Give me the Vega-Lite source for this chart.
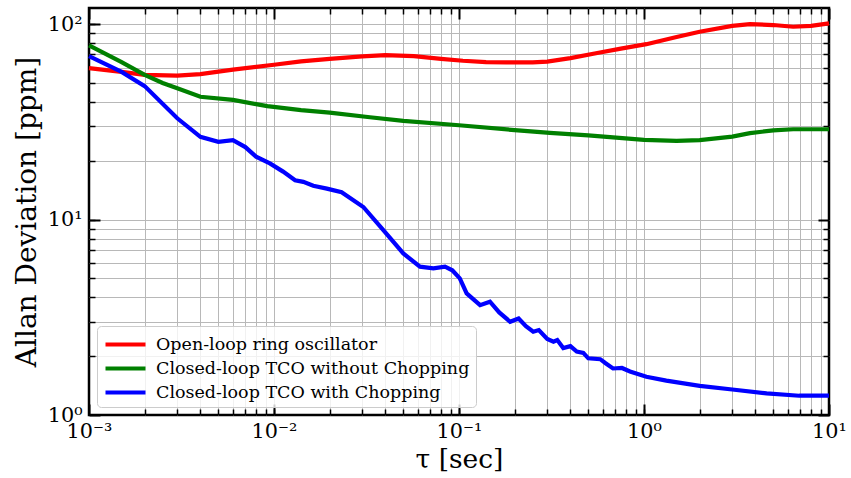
{
  "$schema": "https://vega.github.io/schema/vega-lite/v6.json",
  "width": 740,
  "height": 407,
  "autosize": "none",
  "padding": {"left": 89, "top": 8, "right": 22, "bottom": 63},
  "background": "white",
  "config": {
    "view": {"stroke": "black", "strokeWidth": 2.5},
    "axis": {"labelFont": "DejaVu Serif", "titleFont": "DejaVu Serif", "labelColor": "black", "titleColor": "black", "titleFontWeight": "normal", "tickColor": "black", "domain": false}
  },
  "datasets": {
    "red": [
      {"tau": 0.001, "adev": 59.6, "series": "Open-loop ring oscillator"},
      {"tau": 0.0015, "adev": 57, "series": "Open-loop ring oscillator"},
      {"tau": 0.002, "adev": 55, "series": "Open-loop ring oscillator"},
      {"tau": 0.003, "adev": 54.5, "series": "Open-loop ring oscillator"},
      {"tau": 0.004, "adev": 55.5, "series": "Open-loop ring oscillator"},
      {"tau": 0.006, "adev": 58.5, "series": "Open-loop ring oscillator"},
      {"tau": 0.01, "adev": 62, "series": "Open-loop ring oscillator"},
      {"tau": 0.014, "adev": 64.5, "series": "Open-loop ring oscillator"},
      {"tau": 0.02, "adev": 66.5, "series": "Open-loop ring oscillator"},
      {"tau": 0.03, "adev": 68.5, "series": "Open-loop ring oscillator"},
      {"tau": 0.04, "adev": 69.4, "series": "Open-loop ring oscillator"},
      {"tau": 0.057, "adev": 68.6, "series": "Open-loop ring oscillator"},
      {"tau": 0.08, "adev": 66.5, "series": "Open-loop ring oscillator"},
      {"tau": 0.105, "adev": 65, "series": "Open-loop ring oscillator"},
      {"tau": 0.14, "adev": 64, "series": "Open-loop ring oscillator"},
      {"tau": 0.18, "adev": 63.7, "series": "Open-loop ring oscillator"},
      {"tau": 0.25, "adev": 63.8, "series": "Open-loop ring oscillator"},
      {"tau": 0.3, "adev": 64.3, "series": "Open-loop ring oscillator"},
      {"tau": 0.4, "adev": 67, "series": "Open-loop ring oscillator"},
      {"tau": 0.55, "adev": 71, "series": "Open-loop ring oscillator"},
      {"tau": 0.75, "adev": 75, "series": "Open-loop ring oscillator"},
      {"tau": 1.03, "adev": 79, "series": "Open-loop ring oscillator"},
      {"tau": 1.5, "adev": 86, "series": "Open-loop ring oscillator"},
      {"tau": 2.0, "adev": 91.5, "series": "Open-loop ring oscillator"},
      {"tau": 3.0, "adev": 98, "series": "Open-loop ring oscillator"},
      {"tau": 3.74, "adev": 100, "series": "Open-loop ring oscillator"},
      {"tau": 5.0, "adev": 99, "series": "Open-loop ring oscillator"},
      {"tau": 6.4, "adev": 97, "series": "Open-loop ring oscillator"},
      {"tau": 8.0, "adev": 98, "series": "Open-loop ring oscillator"},
      {"tau": 10, "adev": 101, "series": "Open-loop ring oscillator"}
    ],
    "green": [
      {"tau": 0.001, "adev": 78, "series": "Closed-loop TCO without Chopping"},
      {"tau": 0.0015, "adev": 64, "series": "Closed-loop TCO without Chopping"},
      {"tau": 0.002, "adev": 55, "series": "Closed-loop TCO without Chopping"},
      {"tau": 0.0025, "adev": 50, "series": "Closed-loop TCO without Chopping"},
      {"tau": 0.003, "adev": 47, "series": "Closed-loop TCO without Chopping"},
      {"tau": 0.004, "adev": 42.5, "series": "Closed-loop TCO without Chopping"},
      {"tau": 0.006, "adev": 41, "series": "Closed-loop TCO without Chopping"},
      {"tau": 0.008, "adev": 39, "series": "Closed-loop TCO without Chopping"},
      {"tau": 0.0092, "adev": 38.1, "series": "Closed-loop TCO without Chopping"},
      {"tau": 0.014, "adev": 36.3, "series": "Closed-loop TCO without Chopping"},
      {"tau": 0.02, "adev": 35.3, "series": "Closed-loop TCO without Chopping"},
      {"tau": 0.033, "adev": 33.4, "series": "Closed-loop TCO without Chopping"},
      {"tau": 0.05, "adev": 32, "series": "Closed-loop TCO without Chopping"},
      {"tau": 0.1, "adev": 30.4, "series": "Closed-loop TCO without Chopping"},
      {"tau": 0.2, "adev": 28.7, "series": "Closed-loop TCO without Chopping"},
      {"tau": 0.31, "adev": 27.8, "series": "Closed-loop TCO without Chopping"},
      {"tau": 0.5, "adev": 27, "series": "Closed-loop TCO without Chopping"},
      {"tau": 1.0, "adev": 25.6, "series": "Closed-loop TCO without Chopping"},
      {"tau": 1.5, "adev": 25.3, "series": "Closed-loop TCO without Chopping"},
      {"tau": 2.0, "adev": 25.5, "series": "Closed-loop TCO without Chopping"},
      {"tau": 3.0, "adev": 26.6, "series": "Closed-loop TCO without Chopping"},
      {"tau": 3.74, "adev": 27.7, "series": "Closed-loop TCO without Chopping"},
      {"tau": 5.0, "adev": 28.6, "series": "Closed-loop TCO without Chopping"},
      {"tau": 6.4, "adev": 29, "series": "Closed-loop TCO without Chopping"},
      {"tau": 10, "adev": 29, "series": "Closed-loop TCO without Chopping"}
    ],
    "blue": [
      {"tau": 0.001, "adev": 68.6, "series": "Closed-loop TCO with Chopping"},
      {"tau": 0.0015, "adev": 57, "series": "Closed-loop TCO with Chopping"},
      {"tau": 0.002, "adev": 48.2, "series": "Closed-loop TCO with Chopping"},
      {"tau": 0.003, "adev": 33, "series": "Closed-loop TCO with Chopping"},
      {"tau": 0.004, "adev": 26.5, "series": "Closed-loop TCO with Chopping"},
      {"tau": 0.005, "adev": 25, "series": "Closed-loop TCO with Chopping"},
      {"tau": 0.006, "adev": 25.5, "series": "Closed-loop TCO with Chopping"},
      {"tau": 0.007, "adev": 23.5, "series": "Closed-loop TCO with Chopping"},
      {"tau": 0.008, "adev": 21, "series": "Closed-loop TCO with Chopping"},
      {"tau": 0.0095, "adev": 19.4, "series": "Closed-loop TCO with Chopping"},
      {"tau": 0.0112, "adev": 17.6, "series": "Closed-loop TCO with Chopping"},
      {"tau": 0.013, "adev": 15.9, "series": "Closed-loop TCO with Chopping"},
      {"tau": 0.0144, "adev": 15.6, "series": "Closed-loop TCO with Chopping"},
      {"tau": 0.0163, "adev": 14.9, "series": "Closed-loop TCO with Chopping"},
      {"tau": 0.0193, "adev": 14.4, "series": "Closed-loop TCO with Chopping"},
      {"tau": 0.0232, "adev": 13.8, "series": "Closed-loop TCO with Chopping"},
      {"tau": 0.0304, "adev": 11.6, "series": "Closed-loop TCO with Chopping"},
      {"tau": 0.039, "adev": 8.84, "series": "Closed-loop TCO with Chopping"},
      {"tau": 0.05, "adev": 6.71, "series": "Closed-loop TCO with Chopping"},
      {"tau": 0.0615, "adev": 5.74, "series": "Closed-loop TCO with Chopping"},
      {"tau": 0.0727, "adev": 5.63, "series": "Closed-loop TCO with Chopping"},
      {"tau": 0.084, "adev": 5.74, "series": "Closed-loop TCO with Chopping"},
      {"tau": 0.092, "adev": 5.5, "series": "Closed-loop TCO with Chopping"},
      {"tau": 0.101, "adev": 5.0, "series": "Closed-loop TCO with Chopping"},
      {"tau": 0.11, "adev": 4.19, "series": "Closed-loop TCO with Chopping"},
      {"tau": 0.13, "adev": 3.65, "series": "Closed-loop TCO with Chopping"},
      {"tau": 0.147, "adev": 3.8, "series": "Closed-loop TCO with Chopping"},
      {"tau": 0.165, "adev": 3.35, "series": "Closed-loop TCO with Chopping"},
      {"tau": 0.189, "adev": 3.0, "series": "Closed-loop TCO with Chopping"},
      {"tau": 0.21, "adev": 3.12, "series": "Closed-loop TCO with Chopping"},
      {"tau": 0.23, "adev": 2.85, "series": "Closed-loop TCO with Chopping"},
      {"tau": 0.252, "adev": 2.67, "series": "Closed-loop TCO with Chopping"},
      {"tau": 0.27, "adev": 2.72, "series": "Closed-loop TCO with Chopping"},
      {"tau": 0.3, "adev": 2.45, "series": "Closed-loop TCO with Chopping"},
      {"tau": 0.324, "adev": 2.37, "series": "Closed-loop TCO with Chopping"},
      {"tau": 0.34, "adev": 2.42, "series": "Closed-loop TCO with Chopping"},
      {"tau": 0.366, "adev": 2.2, "series": "Closed-loop TCO with Chopping"},
      {"tau": 0.4, "adev": 2.25, "series": "Closed-loop TCO with Chopping"},
      {"tau": 0.433, "adev": 2.11, "series": "Closed-loop TCO with Chopping"},
      {"tau": 0.47, "adev": 2.08, "series": "Closed-loop TCO with Chopping"},
      {"tau": 0.5, "adev": 1.95, "series": "Closed-loop TCO with Chopping"},
      {"tau": 0.58, "adev": 1.93, "series": "Closed-loop TCO with Chopping"},
      {"tau": 0.62, "adev": 1.84, "series": "Closed-loop TCO with Chopping"},
      {"tau": 0.68, "adev": 1.73, "series": "Closed-loop TCO with Chopping"},
      {"tau": 0.76, "adev": 1.74, "series": "Closed-loop TCO with Chopping"},
      {"tau": 0.84, "adev": 1.67, "series": "Closed-loop TCO with Chopping"},
      {"tau": 1.03, "adev": 1.57, "series": "Closed-loop TCO with Chopping"},
      {"tau": 1.32, "adev": 1.5, "series": "Closed-loop TCO with Chopping"},
      {"tau": 2.0, "adev": 1.41, "series": "Closed-loop TCO with Chopping"},
      {"tau": 3.0, "adev": 1.35, "series": "Closed-loop TCO with Chopping"},
      {"tau": 4.6, "adev": 1.29, "series": "Closed-loop TCO with Chopping"},
      {"tau": 6.9, "adev": 1.255, "series": "Closed-loop TCO with Chopping"},
      {"tau": 10, "adev": 1.255, "series": "Closed-loop TCO with Chopping"}
    ]
  },
  "resolve": {"axis": {"x": "independent", "y": "independent"}},
  "layer": [
    {
      "data": {"name": "red"},
      "mark": {"type": "line", "strokeWidth": 4.2},
      "encoding": {
        "x": {"field": "tau", "type": "quantitative",
          "scale": {"type": "log", "domain": [0.001, 10], "nice": false},
          "axis": {"orient": "bottom", "title": null, "labels": false, "grid": true, "gridColor": "#b8b8b8", "gridWidth": 1,
            "values": [0.002,0.003,0.004,0.005,0.006,0.007,0.008,0.009,0.01,0.02,0.03,0.04,0.05,0.06,0.07,0.08,0.09,0.1,0.2,0.3,0.4,0.5,0.6,0.7,0.8,0.9,1,2,3,4,5,6,7,8,9],
            "tickSize": -6, "tickWidth": 1.5}},
        "y": {"field": "adev", "type": "quantitative",
          "scale": {"type": "log", "domain": [1, 121], "nice": false},
          "axis": {"orient": "left", "title": null, "labels": false, "grid": true, "gridColor": "#b8b8b8", "gridWidth": 1,
            "values": [2,3,4,5,6,7,8,9,10,20,30,40,50,60,70,80,90,100],
            "tickSize": -6, "tickWidth": 1.5}},
        "color": {"field": "series", "type": "nominal",
          "scale": {"domain": ["Open-loop ring oscillator", "Closed-loop TCO without Chopping", "Closed-loop TCO with Chopping"], "range": ["#ff0000", "#008000", "#0000ff"]},
          "legend": {"orient": "bottom-left", "offset": 8, "title": null, "symbolType": "M-1,0H3", "symbolSize": 400, "symbolStrokeWidth": 4.2,
            "labelFont": "DejaVu Serif", "labelFontSize": 17.5, "labelColor": "black", "labelOffset": 28, "labelLimit": 0, "padding": 6, "rowPadding": 3,
            "strokeColor": "#cccccc", "fillColor": "rgba(255,255,255,0.8)", "cornerRadius": 4}}
      }
    },
    {
      "data": {"name": "green"},
      "mark": {"type": "line", "strokeWidth": 4.2},
      "encoding": {
        "x": {"field": "tau", "type": "quantitative",
          "scale": {"type": "log", "domain": [0.001, 10], "nice": false},
          "axis": {"orient": "bottom", "title": "τ [sec]", "titleFontSize": 26.5, "titlePadding": 6, "grid": false,
            "values": [0.001, 0.01, 0.1, 1, 10], "tickSize": -11, "tickWidth": 2,
            "labelFontSize": 20.8, "labelPadding": 17, "labelFlush": false,
            "labelExpr": "datum.value < 0.005 ? '10⁻³' : datum.value < 0.05 ? '10⁻²' : datum.value < 0.5 ? '10⁻¹' : datum.value < 5 ? '10⁰' : '10¹'"}},
        "y": {"field": "adev", "type": "quantitative",
          "scale": {"type": "log", "domain": [1, 121], "nice": false},
          "axis": {"orient": "left", "title": "Allan Deviation [ppm]", "titleFontSize": 28, "titlePadding": 6, "grid": false,
            "values": [1, 10, 100], "tickSize": -11, "tickWidth": 2,
            "labelFontSize": 20.8, "labelPadding": 18, "labelFlush": false,
            "labelExpr": "datum.value < 5 ? '10⁰' : datum.value < 50 ? '10¹' : '10²'"}},
        "color": {"field": "series", "type": "nominal"}
      }
    },
    {
      "data": {"name": "blue"},
      "mark": {"type": "line", "strokeWidth": 4.2},
      "encoding": {
        "x": {"field": "tau", "type": "quantitative",
          "scale": {"type": "log", "domain": [0.001, 10], "nice": false},
          "axis": {"orient": "top", "title": null, "labels": false, "grid": false,
            "values": [0.002,0.003,0.004,0.005,0.006,0.007,0.008,0.009,0.02,0.03,0.04,0.05,0.06,0.07,0.08,0.09,0.2,0.3,0.4,0.5,0.6,0.7,0.8,0.9,2,3,4,5,6,7,8,9],
            "tickSize": -6, "tickWidth": 1.5}},
        "y": {"field": "adev", "type": "quantitative",
          "scale": {"type": "log", "domain": [1, 121], "nice": false},
          "axis": {"orient": "right", "title": null, "labels": false, "grid": false,
            "values": [2,3,4,5,6,7,8,9,20,30,40,50,60,70,80,90],
            "tickSize": -6, "tickWidth": 1.5}},
        "color": {"field": "series", "type": "nominal"}
      }
    },
    {
      "data": {"name": "blue"},
      "mark": {"type": "line", "strokeWidth": 4.2, "strokeOpacity": 0},
      "encoding": {
        "x": {"field": "tau", "type": "quantitative",
          "scale": {"type": "log", "domain": [0.001, 10], "nice": false},
          "axis": {"orient": "top", "title": null, "labels": false, "grid": false,
            "values": [0.001, 0.01, 0.1, 1, 10], "tickSize": -11, "tickWidth": 2}},
        "y": {"field": "adev", "type": "quantitative",
          "scale": {"type": "log", "domain": [1, 121], "nice": false},
          "axis": {"orient": "right", "title": null, "labels": false, "grid": false,
            "values": [1, 10, 100], "tickSize": -11, "tickWidth": 2}}
      }
    }
  ]
}
